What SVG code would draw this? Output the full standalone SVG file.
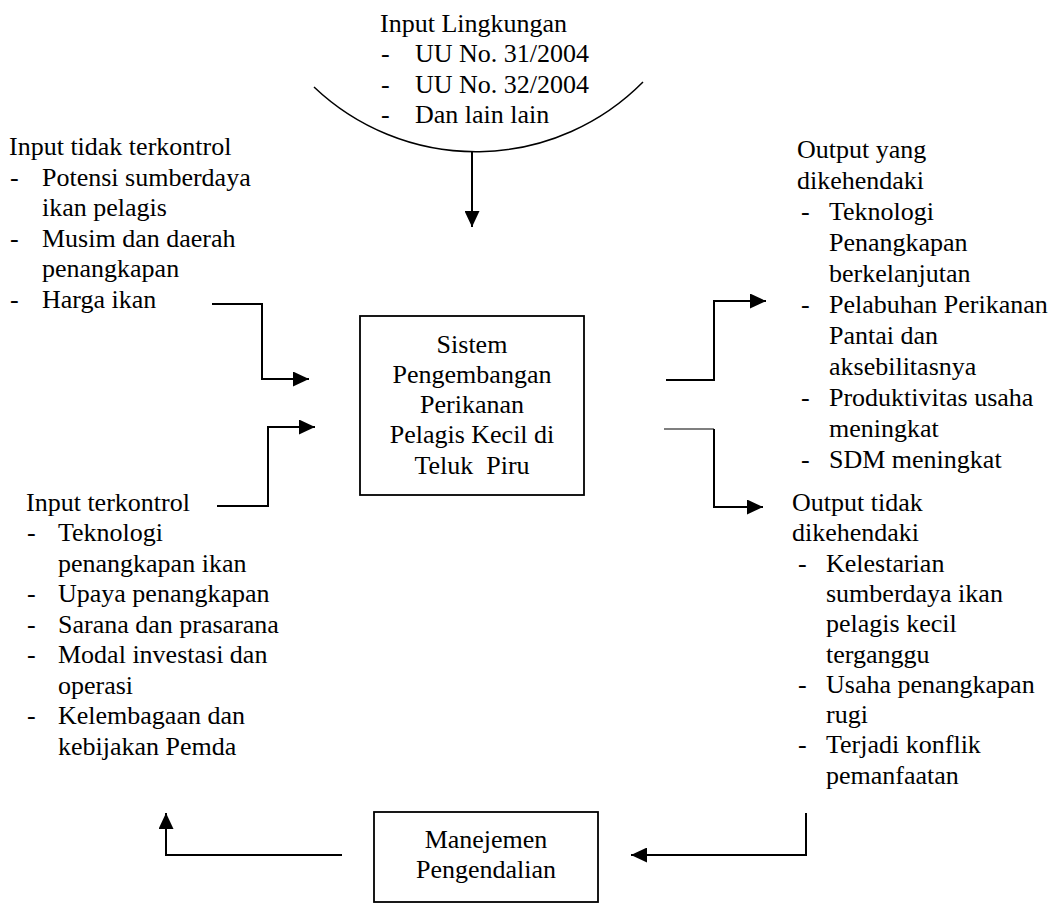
<svg xmlns="http://www.w3.org/2000/svg" width="1057" height="903" viewBox="0 0 1057 903">
<style>
text{font-family:"Liberation Serif","Times New Roman",serif;font-size:26px;fill:#000}
.c{text-anchor:middle}
.box{fill:#fff;stroke:#000;stroke-width:1.8}
.ln{fill:none;stroke:#000;stroke-width:2}
.thin{fill:none;stroke:#000;stroke-width:1.2}
</style>
<defs>
<marker id="ah" markerUnits="userSpaceOnUse" markerWidth="16" markerHeight="15" refX="16" refY="7.5" orient="auto" viewBox="0 0 16 15">
<path d="M0,0 L16,7.5 L0,15 z" fill="#000"/>
</marker>
</defs>
<rect width="1057" height="903" fill="#fff"/>

<g id="env">
<path d="M314,87 A235,235 0 0 0 643,82" fill="none" stroke="#000" stroke-width="1.5"/>
<text x="380" y="32">Input Lingkungan</text>
<text x="381" y="62">-</text><text x="415" y="62">UU No. 31/2004</text>
<text x="381" y="93">-</text><text x="415" y="93">UU No. 32/2004</text>
<text x="381" y="123">-</text><text x="415" y="123">Dan lain lain</text>
</g>

<g id="uncontrolled">
<text x="9" y="155">Input tidak terkontrol</text>
<text x="10" y="186">-</text><text x="42" y="186">Potensi sumberdaya</text>
<text x="42" y="216">ikan pelagis</text>
<text x="10" y="247">-</text><text x="42" y="247">Musim dan daerah</text>
<text x="42" y="277">penangkapan</text>
<text x="10" y="308">-</text><text x="42" y="308">Harga ikan</text>
</g>

<g id="controlled">
<text x="26" y="510.5">Input terkontrol</text>
<text x="27" y="541">-</text><text x="58" y="541">Teknologi</text>
<text x="58" y="571.5">penangkapan ikan</text>
<text x="27" y="602">-</text><text x="58" y="602">Upaya penangkapan</text>
<text x="27" y="632.5">-</text><text x="58" y="632.5">Sarana dan prasarana</text>
<text x="27" y="663">-</text><text x="58" y="663">Modal investasi dan</text>
<text x="58" y="693.5">operasi</text>
<text x="27" y="724">-</text><text x="58" y="724">Kelembagaan dan</text>
<text x="58" y="754.5">kebijakan Pemda</text>
</g>

<g id="system">
<rect class="box" x="360" y="316" width="224" height="179"/>
<text class="c" x="472" y="353">Sistem</text>
<text class="c" x="472" y="383">Pengembangan</text>
<text class="c" x="472" y="413">Perikanan</text>
<text class="c" x="472" y="443">Pelagis Kecil di</text>
<text class="c" x="472" y="474" xml:space="preserve">Teluk  Piru</text>
</g>

<g id="desired">
<text x="797" y="158">Output yang</text>
<text x="797" y="189">dikehendaki</text>
<text x="801" y="220">-</text><text x="829" y="220">Teknologi</text>
<text x="829" y="251">Penangkapan</text>
<text x="829" y="282">berkelanjutan</text>
<text x="801" y="313">-</text><text x="829" y="313">Pelabuhan Perikanan</text>
<text x="829" y="344">Pantai dan</text>
<text x="829" y="375">aksebilitasnya</text>
<text x="801" y="406">-</text><text x="829" y="406">Produktivitas usaha</text>
<text x="829" y="437">meningkat</text>
<text x="801" y="468">-</text><text x="829" y="468">SDM meningkat</text>
</g>

<g id="undesired">
<text x="792" y="511">Output tidak</text>
<text x="792" y="541.3">dikehendaki</text>
<text x="798" y="571.6">-</text><text x="826" y="571.6">Kelestarian</text>
<text x="826" y="601.9">sumberdaya ikan</text>
<text x="826" y="632.2">pelagis kecil</text>
<text x="826" y="662.5">terganggu</text>
<text x="798" y="692.8">-</text><text x="826" y="692.8">Usaha penangkapan</text>
<text x="826" y="723.1">rugi</text>
<text x="798" y="753.4">-</text><text x="826" y="753.4">Terjadi konflik</text>
<text x="826" y="783.7">pemanfaatan</text>
</g>

<g id="management">
<rect class="box" x="374" y="812" width="224" height="90"/>
<text class="c" x="486" y="848">Manejemen</text>
<text class="c" x="486" y="878">Pengendalian</text>
</g>

<g id="connectors">
<path class="ln" d="M472,152 V227" marker-end="url(#ah)"/>
<path class="ln" d="M212,304 H262 V379 H309" marker-end="url(#ah)"/>
<path class="ln" d="M217,506 H268 V427 H315" marker-end="url(#ah)"/>
<path class="ln" d="M666,380 H714 V301 H766" marker-end="url(#ah)"/>
<path class="thin" d="M664,429 H714"/>
<path class="ln" d="M714,429 V507 H763" marker-end="url(#ah)"/>
<path class="ln" d="M806,813 V855 H631" marker-end="url(#ah)"/>
<path class="ln" d="M342,855 H166 V813" marker-end="url(#ah)"/>
</g>
</svg>
